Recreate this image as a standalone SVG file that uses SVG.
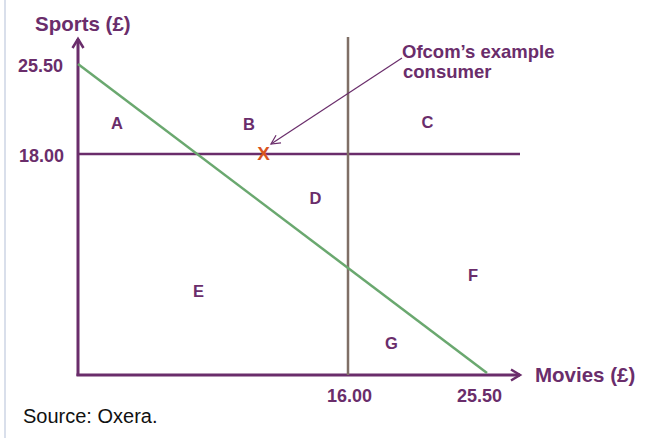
<svg xmlns="http://www.w3.org/2000/svg" width="646" height="438" viewBox="0 0 646 438">
<defs>
<style>
.t{font-family:"Liberation Sans",Arial,sans-serif;font-weight:bold;fill:#6a2d6b}
.lab{font-size:16.5px;text-anchor:middle}
.num{font-size:18px}
.ax{stroke:#6a2d6b;stroke-width:3;fill:none}
</style>
<marker id="ah" markerWidth="14" markerHeight="14" refX="10" refY="7" orient="auto" markerUnits="userSpaceOnUse">
<path d="M1,1.5 L10,7 L1,12.5" fill="none" stroke="#6a2d6b" stroke-width="2.5"/>
</marker>
<marker id="ph" markerWidth="12" markerHeight="12" refX="10" refY="6" orient="auto" markerUnits="userSpaceOnUse">
<path d="M1,1.5 L10,6 L1,10.5" fill="none" stroke="#6a2d6b" stroke-width="1.2"/>
</marker>
</defs>
<rect width="646" height="438" fill="#fff"/>
<line x1="5" y1="0" x2="5" y2="438" stroke="#cdd4e4" stroke-width="1.5"/>
<g id="connectors">
<line x1="78" y1="376" x2="78" y2="39" class="ax" marker-end="url(#ah)"/>
<line x1="76.5" y1="375" x2="520" y2="375" class="ax" marker-end="url(#ah)"/>
<line x1="78" y1="154" x2="520" y2="154" stroke="#6a2d6b" stroke-width="2.5"/>
<line x1="348" y1="37" x2="348" y2="375" stroke="#7f6f66" stroke-width="2.5"/>
<line x1="78" y1="64" x2="487" y2="373" stroke="#6aa86f" stroke-width="2.5"/>
<line x1="402" y1="58" x2="271" y2="144" stroke="#6a2d6b" stroke-width="1.2" marker-end="url(#ph)"/>
</g>
<g id="consumer">
<text x="263.5" y="160" font-family="Liberation Sans,Arial,sans-serif" font-weight="bold" font-size="19" fill="#d9541e" text-anchor="middle">X</text>
</g>
<g id="axis-labels">
<text class="t" x="35" y="31" font-size="20.5">Sports (£)</text>
<text class="t" x="535" y="382" font-size="20.5">Movies (£)</text>
<text class="t num" x="18" y="72">25.50</text>
<text class="t num" x="19" y="162">18.00</text>
<text class="t num" x="349.5" y="402" text-anchor="middle">16.00</text>
<text class="t num" x="479.5" y="402" text-anchor="middle">25.50</text>
</g>
<g id="ofcom-label">
<text class="t" x="402" y="58" font-size="18.5">Ofcom’s example</text>
<text class="t" x="403" y="78" font-size="18.5">consumer</text>
</g>
<g id="regions">
<text class="t lab" x="117" y="129">A</text>
<text class="t lab" x="249" y="130">B</text>
<text class="t lab" x="427.5" y="128">C</text>
<text class="t lab" x="315.5" y="204">D</text>
<text class="t lab" x="198.5" y="297">E</text>
<text class="t lab" x="473" y="281">F</text>
<text class="t lab" x="391.5" y="349">G</text>
</g>
<text x="23" y="423" font-family="Liberation Sans,Arial,sans-serif" font-size="20" fill="#111">Source: Oxera.</text>
</svg>
